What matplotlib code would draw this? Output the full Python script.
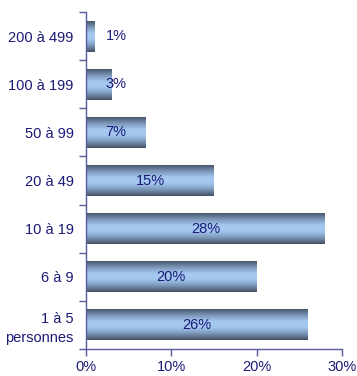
import numpy as np
import matplotlib
matplotlib.use("Agg")
import matplotlib.pyplot as plt
from matplotlib.colors import LinearSegmentedColormap

plt.rcParams['font.family'] = ['Liberation Sans', 'DejaVu Sans']

categories = ["1 à 5\npersonnes", "6 à 9", "10 à 19", "20 à 49",
              "50 à 99", "100 à 199", "200 à 499"]
shares = [26, 20, 28, 15, 7, 3, 1]
xticks = [0, 10, 20, 30]
xtick_labels = ["0%", "10%", "20%", "30%"]

NAVY = "#1a1a78"
AXIS = "#5a5a9e"
BAR_H = 0.64
FS = 10.5

# cylinder-like shading: dark edges, light blue middle
shade = LinearSegmentedColormap.from_list(
    "cyl", ["#4a586d", "#7c98ba", "#a6c9f0", "#a2c6ee", "#7a95b6", "#435166"])
grad = np.linspace(0, 1, 64).reshape(-1, 1)

fig = plt.figure(figsize=(3.57, 3.76), dpi=100)
ax = fig.add_axes([0.241, 0.0718, 0.717, 0.8962])

ypos = np.arange(len(categories))
bars = ax.barh(ypos, shares, height=BAR_H, color="none", edgecolor="none")
for b, v in zip(bars, shares):
    x0, y0 = b.get_x(), b.get_y()
    w, h = b.get_width(), b.get_height()
    ax.imshow(grad, cmap=shade, aspect="auto", origin="upper",
              extent=[x0, x0 + w, y0, y0 + h], zorder=2)
    ax.text(max(v / 2, 3.5), b.get_y() + h / 2, f"{v}%", ha="center",
            va="center", color=NAVY, fontsize=FS, zorder=3)

ax.set_xlim(0, 30)
ax.set_ylim(-0.5, len(categories) - 0.5)
ax.set_xticks(xticks)
ax.set_xticklabels(xtick_labels, color=NAVY, fontsize=FS)
ax.set_yticks(ypos)
ax.set_yticklabels(categories, color=NAVY, fontsize=FS, linespacing=1.45)
ax.set_yticks(np.arange(-0.5, len(categories)), minor=True)
ax.tick_params(axis="y", which="major", length=0, pad=9)
ax.tick_params(axis="y", which="minor", length=5, color=AXIS, width=1)
ax.tick_params(axis="x", length=5, color=AXIS, width=1, pad=3)
for s in ["top", "right"]:
    ax.spines[s].set_visible(False)
for s in ["left", "bottom"]:
    ax.spines[s].set_color(AXIS)
    ax.spines[s].set_linewidth(1)

fig.savefig("out.png", dpi=100)
